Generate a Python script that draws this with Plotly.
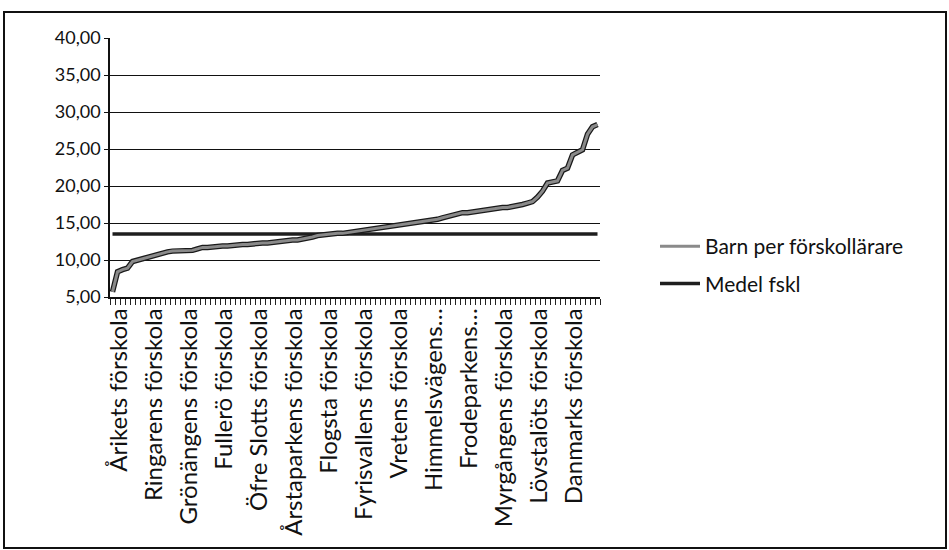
import plotly.graph_objects as go

# Category labels shown on the x axis (every 7th preschool out of 98)
label_positions = [1, 8, 15, 22, 29, 36, 43, 50, 57, 64, 71, 78, 85, 92]
label_names = [
    "Årikets förskola", "Ringarens förskola", "Grönängens förskola",
    "Fullerö förskola", "Öfre Slotts förskola", "Årstaparkens förskola",
    "Flogsta förskola", "Fyrisvallens förskola", "Vretens förskola",
    "Himmelsvägens…", "Frodeparkens…", "Myrgångens förskola",
    "Lövstalöts förskola", "Danmarks förskola",
]

# Category index 1..98
categories = list(range(1, 99))

barn_per_forskollarare = [
    5.7, 8.4, 8.7, 8.9, 9.8, 10.0, 10.1, 10.3, 10.5, 10.7,
    10.9, 11.1, 11.2, 11.2, 11.3, 11.3, 11.3, 11.5, 11.7, 11.7,
    11.8, 11.8, 11.9, 11.9, 12.0, 12.0, 12.1, 12.1, 12.2, 12.2,
    12.3, 12.3, 12.4, 12.5, 12.6, 12.6, 12.7, 12.7, 12.8, 12.9,
    13.1, 13.3, 13.4, 13.5, 13.5, 13.6, 13.6, 13.7, 13.8, 13.9,
    13.9, 14.0, 14.1, 14.2, 14.3, 14.4, 14.5, 14.6, 14.7, 14.8,
    14.9, 15.0, 15.1, 15.3, 15.4, 15.5, 15.7, 15.9, 16.1, 16.3,
    16.4, 16.4, 16.5, 16.7, 16.8, 16.9, 17.0, 17.0, 17.1, 17.1,
    17.2, 17.3, 17.5, 17.7, 17.9, 18.5, 19.3, 20.4, 20.5, 20.7,
    22.1, 22.4, 24.2, 24.6, 24.9, 27.0, 28.0, 28.3,
]

medel_fskl = [
    13.5, 13.5, 13.5, 13.5, 13.5, 13.5, 13.5, 13.5, 13.5, 13.5,
    13.5, 13.5, 13.5, 13.5, 13.5, 13.5, 13.5, 13.5, 13.5, 13.5,
    13.5, 13.5, 13.5, 13.5, 13.5, 13.5, 13.5, 13.5, 13.5, 13.5,
    13.5, 13.5, 13.5, 13.5, 13.5, 13.5, 13.5, 13.5, 13.5, 13.5,
    13.5, 13.5, 13.5, 13.5, 13.5, 13.5, 13.5, 13.5, 13.5, 13.5,
    13.5, 13.5, 13.5, 13.5, 13.5, 13.5, 13.5, 13.5, 13.5, 13.5,
    13.5, 13.5, 13.5, 13.5, 13.5, 13.5, 13.5, 13.5, 13.5, 13.5,
    13.5, 13.5, 13.5, 13.5, 13.5, 13.5, 13.5, 13.5, 13.5, 13.5,
    13.5, 13.5, 13.5, 13.5, 13.5, 13.5, 13.5, 13.5, 13.5, 13.5,
    13.5, 13.5, 13.5, 13.5, 13.5, 13.5, 13.5, 13.5,
]

y_ticks = [5, 10, 15, 20, 25, 30, 35, 40]

FONT = "Lato, Carlito, Calibri, sans-serif"

fig = go.Figure()

# Medel fskl (dark flat line)
fig.add_trace(go.Scatter(
    x=categories, y=medel_fskl, mode="lines", name="Medel fskl",
    line=dict(color="#1e1e1e", width=3.5), legendgroup="b", legendrank=2,
))
# outline of the Barn series (scanned look: dark edge, gray core)
fig.add_trace(go.Scatter(
    x=categories, y=barn_per_forskollarare, mode="lines",
    line=dict(color="#1a1a1a", width=5.5), showlegend=False,
    hoverinfo="skip",
))
fig.add_trace(go.Scatter(
    x=categories, y=barn_per_forskollarare, mode="lines",
    name="Barn per förskollärare",
    line=dict(color="#8a8a8a", width=3), legendgroup="a", legendrank=1,
))

# Margins so that plot area is x 110..600, y 38..297
L, R, T, B = 110, 349, 38, 253
W, H = 949, 550
pw, ph = W - L - R, H - T - B

fig.update_layout(
    width=W, height=H,
    margin=dict(l=L, r=R, t=T, b=B, pad=0),
    paper_bgcolor="white", plot_bgcolor="white",
    separators=",.",
    font=dict(family=FONT, size=16, color="#111111"),
    showlegend=True,
    legend=dict(
        x=(655 - L) / pw, xanchor="left",
        y=(297 - 226) / ph, yanchor="top",
        font=dict(family=FONT, size=21, color="#111111"),
        tracegroupgap=7, bgcolor="rgba(0,0,0,0)",
        itemwidth=40,
    ),
    xaxis=dict(
        range=[0.5, 98.5],
        tickmode="array", tickvals=label_positions, ticktext=label_names,
        tickangle=-90, ticks="", showgrid=False, zeroline=False,
        showline=True, linecolor="#111111", linewidth=1.5,
        ticklabelshift=7,
        tickfont=dict(family=FONT, size=24, color="#111111"),
        minor=dict(tick0=0.5, dtick=1, ticks="outside", ticklen=6,
                   tickcolor="#222222", tickwidth=1, showgrid=False),
    ),
    yaxis=dict(
        range=[5, 40], tickmode="array", tickvals=y_ticks,
        tickformat=".2f", ticks="outside", ticklen=4, tickcolor="#111111",
        showgrid=True, gridcolor="#111111", gridwidth=1,
        showline=True, linecolor="#111111", linewidth=1.5,
        zeroline=False,
        tickfont=dict(family=FONT, size=18, color="#111111"),
    ),
    shapes=[dict(
        type="rect", xref="paper", yref="paper",
        x0=(4 - L) / pw, x1=(946 - L) / pw,
        y0=(297 - 548) / ph, y1=(297 - 12) / ph,
        line=dict(color="#111111", width=2), fillcolor="rgba(0,0,0,0)",
        layer="below",
    )],
)

fig.write_html(
    "out.html",
    config={"displayModeBar": False},
    post_script="document.body.style.margin='0';document.body.style.overflow='hidden';",
)
